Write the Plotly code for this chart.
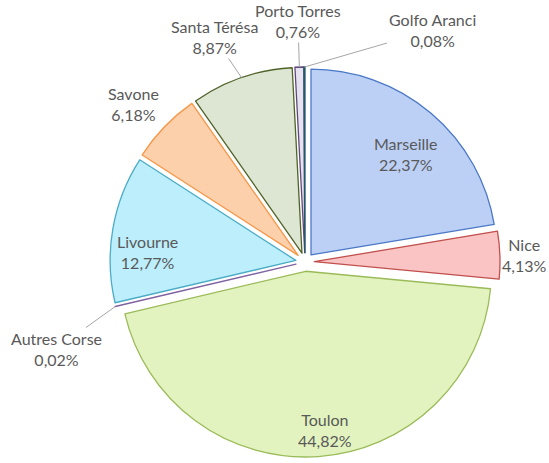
import numpy as np
import plotly.graph_objects as go

ports = ["Marseille", "Nice", "Toulon", "Autres Corse", "Livourne",
         "Savone", "Santa Térésa", "Porto Torres", "Golfo Aranci"]
shares = [22.37, 4.13, 44.82, 0.02, 12.77, 6.18, 8.87, 0.76, 0.08]

fills = ["#bcd0f5", "#f9c4c3", "#e2f3bf", "#a08cc0", "#bdeefc",
         "#fdd0ac", "#dde6d2", "#e6e2ef", "#2a6678"]
edges = ["#4a78c6", "#c0504d", "#9bbb59", "#8064a2", "#4bacc6",
         "#f79646", "#4f6228", "#5f497a", "#215968"]

# label centres (pixels from top-left) and whether a leader line is drawn
label_pos = {
    "Marseille": (406, 154, False),
    "Nice": (524, 255, False),
    "Toulon": (325, 430, False),
    "Autres Corse": (56, 349, True),
    "Livourne": (147, 252, False),
    "Savone": (133, 104, False),
    "Santa Térésa": (214, 37, True),
    "Porto Torres": (298, 21, True),
    "Golfo Aranci": (432, 30, True),
}

W, H = 549, 463
PULL = 0.05
FONT = dict(family="Lato", size=16, color="#595959")

cx, cy = 305, 262
half = 195
dom_x = [(cx - half) / W, (cx + half) / W]
dom_y = [1 - (cy + half) / H, 1 - (cy - half) / H]
r_out = half  # outer edge of a pulled slice

fig = go.Figure(
    go.Pie(
        labels=ports,
        values=shares,
        sort=False,
        direction="clockwise",
        rotation=0,
        pull=PULL,
        marker=dict(colors=fills, line=dict(color=edges, width=1.3)),
        textinfo="none",
        domain=dict(x=dom_x, y=dom_y),
        showlegend=False,
        hoverinfo="label+value",
    )
)

cum = np.cumsum(shares)
mid = (cum - np.array(shares) / 2) / cum[-1] * 2 * np.pi
for i, p in enumerate(ports):
    lx, ly, line = label_pos[p]
    txt = f"{p}<br>{shares[i]:.2f}%".replace(".", ",")
    if not line:
        fig.add_annotation(x=lx / W, y=1 - ly / H, xref="paper", yref="paper",
                           xanchor="center", yanchor="middle",
                           text=txt, showarrow=False, font=FONT)
        continue
    tx = cx + r_out * np.sin(mid[i])
    ty = cy - r_out * np.cos(mid[i])
    fig.add_annotation(
        x=tx / W, y=1 - ty / H, xref="paper", yref="paper",
        text=txt, showarrow=True, arrowhead=0, arrowwidth=1,
        arrowcolor="#a6a6a6", standoff=0,
        ax=lx - tx, ay=ly - ty, font=FONT,
    )

fig.update_layout(
    width=W,
    height=H,
    margin=dict(l=0, r=0, t=0, b=0),
    paper_bgcolor="white",
    plot_bgcolor="white",
)
# page has a default 8px body margin, which would push the chart off the window
fig.write_html("out.html", config={"displayModeBar": False},
               post_script="document.body.style.margin='0';document.body.style.overflow='hidden';")
